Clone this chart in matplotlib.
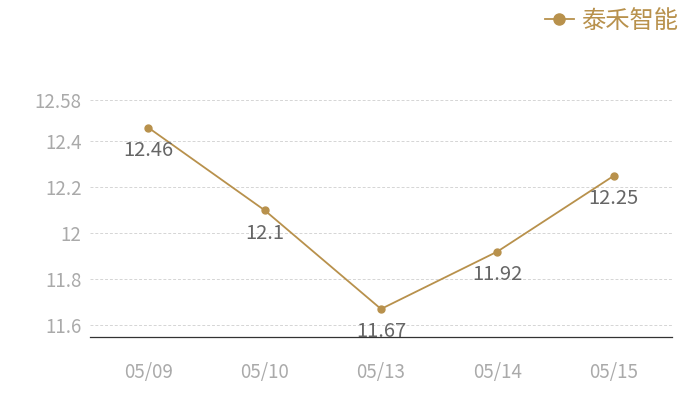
import matplotlib
matplotlib.use('Agg')
import matplotlib.pyplot as plt

plt.rcParams['font.family'] = ['Noto Sans CJK SC', 'DejaVu Sans']

# data
dates = ['05/09', '05/10', '05/13', '05/14', '05/15']
prices = [12.46, 12.1, 11.67, 11.92, 12.25]
yticks = [11.6, 11.8, 12, 12.2, 12.4, 12.58]
ytick_labels = ['11.6', '11.8', '12', '12.2', '12.4', '12.58']
series_name = '泰禾智能'

gold = '#b8914c'

fig = plt.figure(figsize=(7, 4), dpi=100)
ax = fig.add_axes([90/700, 1-337/400, 582/700, 237/400])

x = list(range(len(dates)))
ax.plot(x, prices, color=gold, lw=1.3, marker='o', ms=5, label=series_name)

for xi, v in zip(x, prices):
    ax.annotate(str(v), (xi, v), xytext=(0, -16.5), textcoords='offset points',
                ha='center', va='center', fontsize=14.5, color='#666666')

ax.set_xlim(-0.5, len(dates) - 0.5)
ax.set_ylim(11.548, 12.58)
ax.set_xticks(x)
ax.set_xticklabels(dates)
ax.set_yticks(yticks)
ax.set_yticklabels(ytick_labels)
ax.tick_params(axis='both', length=0, colors='#aaaaaa', labelsize=13.5)
ax.tick_params(axis='x', pad=18)
ax.tick_params(axis='y', pad=6)
ax.grid(axis='y', color='#d5d5d5', ls=(0, (3, 2)), lw=0.7)
ax.set_axisbelow(True)
for s in ['top', 'right', 'left']:
    ax.spines[s].set_visible(False)
ax.spines['bottom'].set_color('#333333')
ax.spines['bottom'].set_linewidth(0.9)

leg = fig.legend(loc='upper right', bbox_to_anchor=(1.0, 1.035), frameon=False,
                 fontsize=17.5, handlelength=1.2, handletextpad=0.3,
                 markerscale=1.6)
for t in leg.get_texts():
    t.set_color(gold)

fig.savefig('out.png', dpi=100)
